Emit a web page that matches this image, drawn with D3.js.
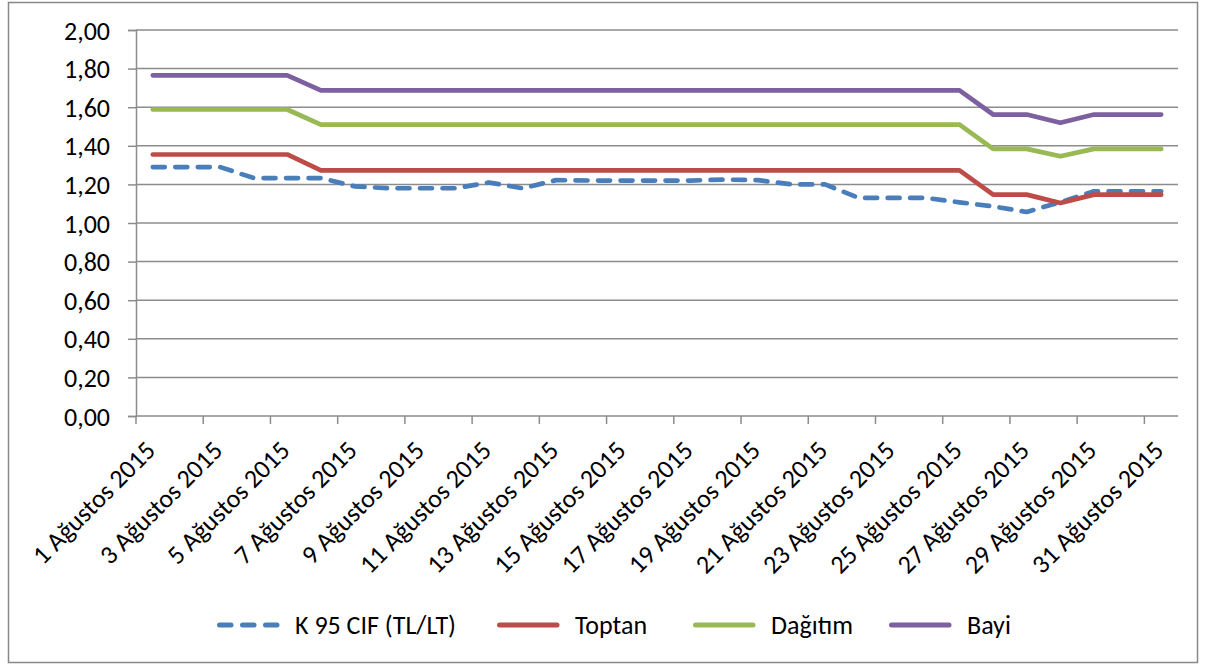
<!DOCTYPE html>
<html>
<head>
<meta charset="utf-8">
<script src="https://cdn.jsdelivr.net/npm/d3@7"></script>
<style>
  body { margin: 0; background: #fff; }
  text { font-family: Carlito, Lato, "Liberation Sans", sans-serif; fill: #000; }
</style>
</head>
<body>
<div id="chart"></div>
<script>
// data, one value per day of August 2015
const days = d3.range(1, 32)
const seriesNames = ["K 95 CIF (TL/LT)", "Toptan", "Dağıtım", "Bayi"]
const k95 = [1.29, 1.29, 1.29, 1.233, 1.233, 1.233, 1.19, 1.18, 1.18, 1.18,
  1.21, 1.18, 1.222, 1.22, 1.22, 1.22, 1.22, 1.225, 1.222, 1.20,
  1.20, 1.13, 1.13, 1.13, 1.107, 1.086, 1.057, 1.108, 1.164, 1.164, 1.164]
const toptan = [1.355, 1.355, 1.355, 1.355, 1.355, 1.273, 1.273, 1.273, 1.273, 1.273,
  1.273, 1.273, 1.273, 1.273, 1.273, 1.273, 1.273, 1.273, 1.273, 1.273,
  1.273, 1.273, 1.273, 1.273, 1.273, 1.147, 1.147, 1.104, 1.147, 1.147, 1.147]
const dagitim = [1.588, 1.588, 1.588, 1.588, 1.588, 1.51, 1.51, 1.51, 1.51, 1.51,
  1.51, 1.51, 1.51, 1.51, 1.51, 1.51, 1.51, 1.51, 1.51, 1.51,
  1.51, 1.51, 1.51, 1.51, 1.51, 1.384, 1.384, 1.346, 1.384, 1.384, 1.384]
const bayi = [1.765, 1.765, 1.765, 1.765, 1.765, 1.687, 1.687, 1.687, 1.687, 1.687,
  1.687, 1.687, 1.687, 1.687, 1.687, 1.687, 1.687, 1.687, 1.687, 1.687,
  1.687, 1.687, 1.687, 1.687, 1.687, 1.562, 1.562, 1.519, 1.562, 1.562, 1.562]
const yTicks = [0, 0.2, 0.4, 0.6, 0.8, 1.0, 1.2, 1.4, 1.6, 1.8, 2.0]
const colors = ["#4A7EBB", "#BE4B48", "#98B954", "#7D60A0"]

const W = 1205, H = 665
let margin = {top: 30, right: 27, bottom: 249, left: 136},
  width = W - margin.left - margin.right,
  height = H - margin.top - margin.bottom

const svg = d3.select("#chart")
  .append("svg")
    .attr("width", W)
    .attr("height", H)

// outer frame
svg.append("rect")
  .attr("x", 8.5).attr("y", 2.5)
  .attr("width", 1189).attr("height", 660)
  .attr("fill", "none").attr("stroke", "#888").attr("stroke-width", 1.5)

const g = svg.append("g")
  .attr("transform", "translate(" + margin.left + "," + margin.top + ")")

let x = d3.scaleBand().domain(days).range([0, width])
let y = d3.scaleLinear().domain([0, 2]).range([height, 0])
const cx = d => x(d) + x.bandwidth() / 2

// gridlines
g.selectAll(".grid")
  .data(yTicks.slice(1))
  .enter().append("line")
    .attr("x1", 0).attr("x2", width)
    .attr("y1", d => y(d)).attr("y2", d => y(d))
    .attr("stroke", "#8c8c8c").attr("stroke-width", 1.5)

// y axis
const yAxis = g.append("g")
  .call(d3.axisLeft(y).tickValues(yTicks).tickSize(8).tickPadding(18)
    .tickFormat(d => d3.format(".2f")(d).replace(".", ",")))
yAxis.select(".domain").attr("stroke", "#8c8c8c").attr("stroke-width", 1.5)
yAxis.selectAll(".tick line").attr("stroke", "#8c8c8c").attr("stroke-width", 1.5)
yAxis.selectAll(".tick text").style("font-size", "26px").attr("dy", "0.35em")

// x axis: ticks between categories, every second day
const xa = g.append("g").attr("transform", "translate(0," + height + ")")
xa.append("line").attr("x1", 0).attr("x2", width)
  .attr("stroke", "#8c8c8c").attr("stroke-width", 1.5)
xa.selectAll(".xt")
  .data(days.filter(d => d % 2 === 1))
  .enter().append("line")
    .attr("x1", d => x(d)).attr("x2", d => x(d))
    .attr("y1", 0).attr("y2", 8)
    .attr("stroke", "#8c8c8c").attr("stroke-width", 1.5)
xa.selectAll(".xl")
  .data(days.filter(d => d % 2 === 1))
  .enter().append("text")
    .attr("transform", d => "translate(" + (cx(d) + 4) + ",36)rotate(-45)")
    .attr("text-anchor", "end")
    .style("font-size", "26px")
    .text(d => d + " Ağustos 2015")

// lines
const allSeries = [k95, toptan, dagitim, bayi]
const line = d3.line().x((d, i) => cx(days[i])).y(d => y(d))
g.selectAll(".series")
  .data(allSeries)
  .enter().append("path")
    .attr("d", d => line(d))
    .attr("fill", "none")
    .attr("stroke", (d, i) => colors[i])
    .attr("stroke-width", 4.7)
    .attr("stroke-linejoin", "round")
    .attr("stroke-linecap", "round")
    .attr("stroke-dasharray", (d, i) => i === 0 ? "12,10.5" : null)

// legend
const legX = [217, 497, 693, 889]
const leg = svg.append("g").attr("transform", "translate(0,625)")
seriesNames.forEach(function(name, i) {
  leg.append("line")
    .attr("x1", legX[i] + 2.5).attr("x2", legX[i] + 60)
    .attr("stroke", colors[i]).attr("stroke-width", 5)
    .attr("stroke-linecap", "round")
    .attr("stroke-dasharray", i === 0 ? "11.5,11.5" : null)
  leg.append("text")
    .attr("x", legX[i] + 78).attr("y", 8.5)
    .style("font-size", "26px")
    .text(name)
})
</script>
</body>
</html>
